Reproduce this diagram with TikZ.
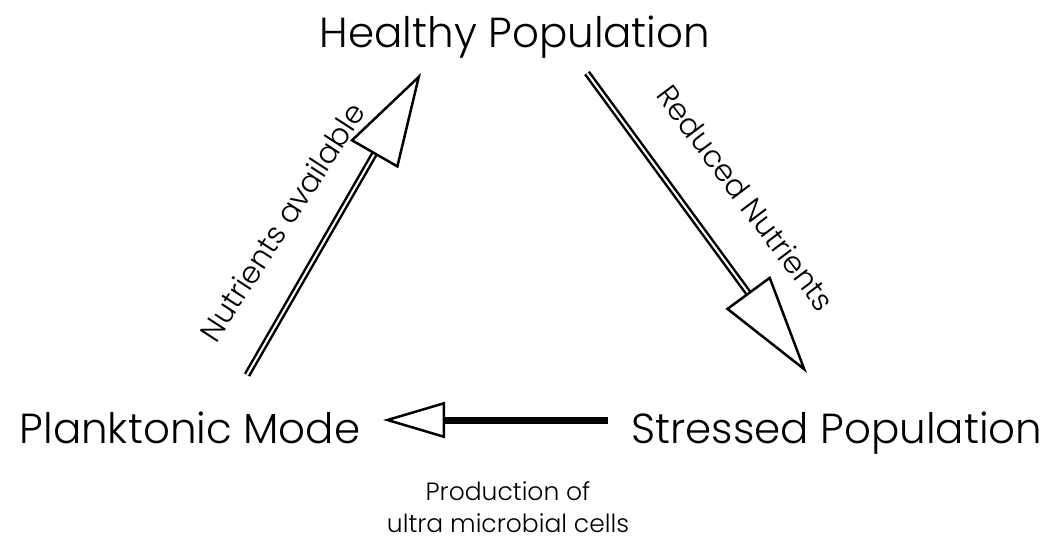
\documentclass[tikz,border=0pt]{standalone}
\usepackage{fontspec}
\setmainfont{Poppins Light}
\usetikzlibrary{arrows.meta}

\begin{document}
\begin{tikzpicture}[x=1pt,y=-1pt,
    state/.style={anchor=base, font=\fontsize{42}{50}\selectfont},
    edgelabel/.style={anchor=center, font=\fontsize{30}{36}\selectfont},
    hollow/.style={line width=2.5pt, double distance=2pt,
        -{Triangle[open,length=#1,width=55pt,line width=2.5pt]}},
    solid shaft/.style={line width=7pt,
        -{Triangle[open,length=62pt,width=36pt,line width=2.5pt]}}]
\useasboundingbox (0,0) rectangle (1047,539);

\node[state] (healthy) at (515,47) {Healthy Population};
\node[state] (plank) at (190,443) {Planktonic Mode};
\node[state] (stressed) at (837,443) {Stressed Population};

% arrow ends
\coordinate (up-tail) at (247,375);
\coordinate (up-tip) at (421,73);
\coordinate (down-tail) at (587,73);
\coordinate (down-tip) at (807,373);
\coordinate (left-tail) at (608,420);
\coordinate (left-tip) at (383,420);

\draw[hollow=94pt] (up-tail) -- (up-tip);
\draw[hollow=100pt] (down-tail) -- (down-tip);
\draw[solid shaft] (left-tail) -- (left-tip);

\node[edgelabel, rotate=57] (avail) at (282,222) {Nutrients available};
\node[edgelabel, rotate=-53] (reduced) at (746,198) {Reduced Nutrients};
\node[anchor=base, align=center, font=\fontsize{25}{32}\selectfont] (prod) at (508,532)
    {Production of\\ultra microbial cells};
\end{tikzpicture}
\end{document}
